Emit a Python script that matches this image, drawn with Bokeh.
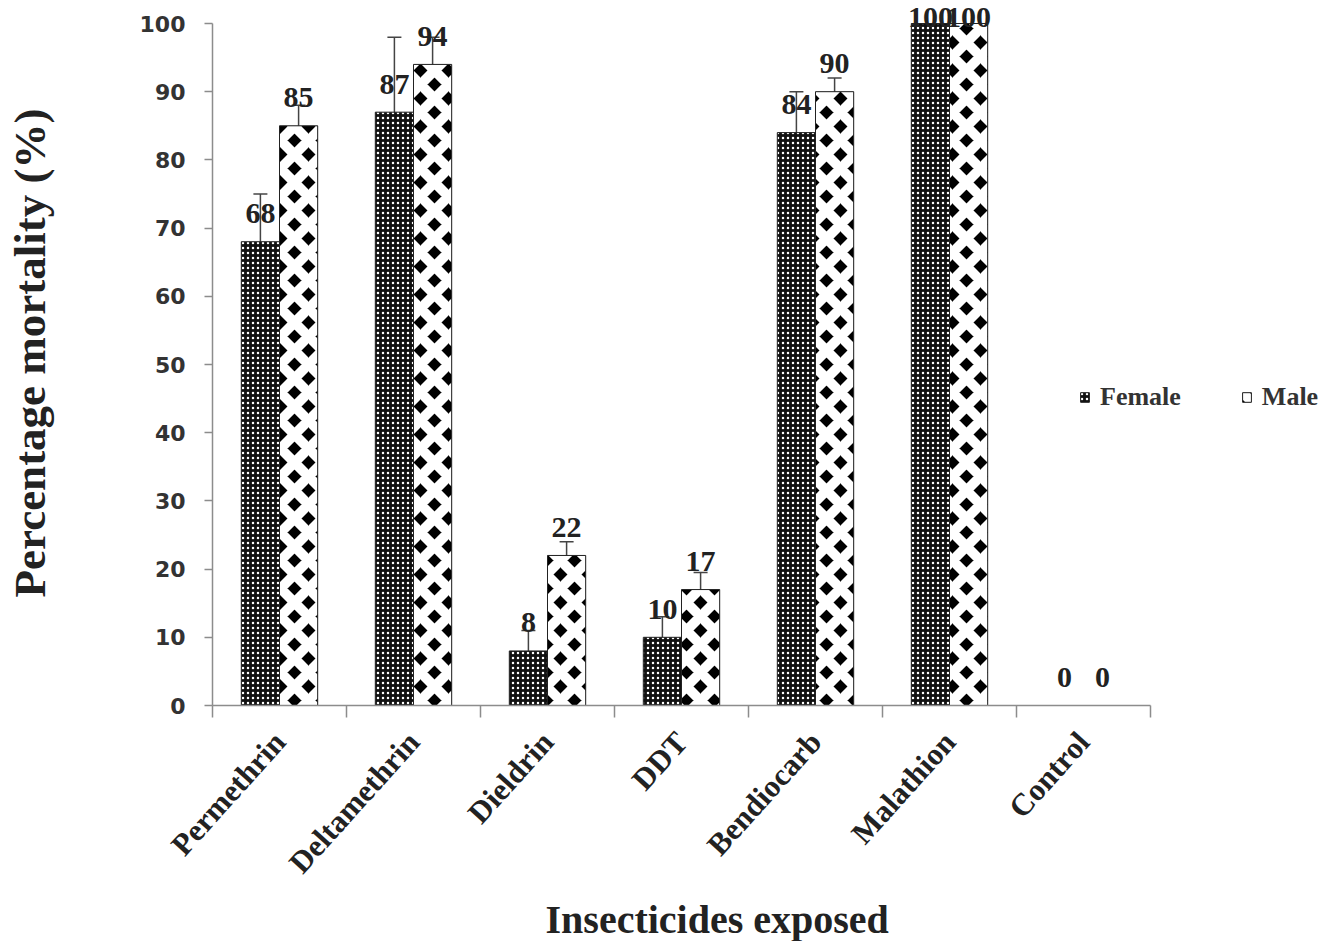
import math
from bokeh.plotting import figure
from bokeh.models import (ColumnDataSource, Range1d, FixedTicker, Whisker, TeeHead,
                          Legend, LegendItem, Title, LinearAxis)
from bokeh.embed import file_html
from bokeh.resources import INLINE
from bokeh.core.properties import value

categories = ["Permethrin", "Deltamethrin", "Dieldrin", "DDT", "Bendiocarb", "Malathion", "Control"]
female = [68, 87, 8, 10, 84, 100, 0]
male = [85, 94, 22, 17, 90, 100, 0]
female_err = [7, 11, 3, 3, 6, 0, 0]
male_err = [3, 4, 2, 2.5, 2, 0, 0]
y_ticks = list(range(0, 101, 10))

n = len(categories)
idx = list(range(n))
off = 0.1425
bw = 0.285
fx = [i + 0.5 - off for i in idx]
mx = [i + 0.5 + off for i in idx]

# label offsets (screen px): labels at 100 are squeezed against the top
f_off = [-6 if v >= 100 else -28 for v in female]
m_off = [-6 if v >= 100 else -28 for v in male]

src = ColumnDataSource(dict(fx=fx, mx=mx, female=female, male=male,
                            flab=[str(v) for v in female], mlab=[str(v) for v in male],
                            foff=f_off, moff=m_off))

fe = [(fx[i], female[i] - female_err[i], female[i] + female_err[i]) for i in idx if female_err[i] > 0]
me = [(mx[i], male[i] - male_err[i], male[i] + male_err[i]) for i in idx if male_err[i] > 0]
fsrc = ColumnDataSource(dict(x=[e[0] for e in fe], lo=[e[1] for e in fe], hi=[e[2] for e in fe]))
msrc = ColumnDataSource(dict(x=[e[0] for e in me], lo=[e[1] for e in me], hi=[e[2] for e in me]))

W, H = 1321, 941
left, right_px, top_px, bottom = 212, 1150, 23, 705
unit_x = (right_px - left) / n
x_end = n + (W - right_px) / unit_x
y_end = 100 * bottom / (bottom - top_px)

p = figure(width=W, height=H, x_range=Range1d(0, x_end), y_range=Range1d(0, y_end),
           output_backend="svg", toolbar_location=None,
           min_border_left=left, min_border_right=0, min_border_top=0,
           min_border_bottom=H - bottom)
p.outline_line_color = None
p.xgrid.visible = False
p.ygrid.visible = False

fr = p.vbar(x="fx", top="female", width=bw, source=src, fill_color="#111111",
            line_color="#222222", line_width=1,
            hatch_pattern="dot", hatch_color="white", hatch_scale=5)
mr = p.vbar(x="mx", top="male", width=bw, source=src, fill_color="black",
            line_color="#222222", line_width=1,
            hatch_pattern="x", hatch_color="white", hatch_scale=28, hatch_weight=10)

ecol = "#444444"
for s in (fsrc, msrc):
    p.add_layout(Whisker(source=s, base="x", upper="hi", lower="lo", line_color=ecol, line_width=1.5,
                         upper_head=TeeHead(size=14, line_color=ecol, line_width=1.5),
                         lower_head=TeeHead(size=14, line_color=ecol, line_width=1.5)))

lab_font = value("Liberation Serif")
for xcol, ycol, tcol, ocol in (("fx", "female", "flab", "foff"), ("mx", "male", "mlab", "moff")):
    p.text(x=xcol, y=ycol, text=tcol, source=src, y_offset=ocol, text_align="center",
           text_baseline="middle", text_font=lab_font, text_font_style="bold",
           text_font_size="30px", text_color="#222222")

axcol = "#8c8c8c"
xa = p.xaxis[0]
xa.bounds = (0, n)
xa.ticker = FixedTicker(ticks=[i + 0.5 for i in idx], minor_ticks=list(range(n + 1)))
xa.major_label_overrides = {i + 0.5: categories[i] for i in idx}
xa.major_label_orientation = math.radians(48)
xa.major_tick_line_color = None
xa.minor_tick_line_color = axcol
xa.minor_tick_in = 0
xa.minor_tick_out = 12
xa.minor_tick_line_width = 1.5
xa.axis_line_color = axcol
xa.axis_line_width = 1.5
xa.major_label_text_font = "Liberation Serif"
xa.major_label_text_font_style = "bold"
xa.major_label_text_font_size = "31px"
xa.major_label_text_color = "#222222"
xa.major_label_standoff = 19

ya = p.yaxis[0]
ya.bounds = (0, 100)
ya.ticker = FixedTicker(ticks=y_ticks)
ya.minor_tick_line_color = None
ya.major_tick_in = 0
ya.major_tick_out = 8
ya.major_tick_line_color = axcol
ya.major_tick_line_width = 1.5
ya.axis_line_color = axcol
ya.axis_line_width = 1.5
ya.major_label_text_font = "DejaVu Sans"
ya.major_label_text_font_style = "bold"
ya.major_label_text_font_size = "22px"
ya.major_label_text_color = "#333333"
ya.major_label_standoff = 19

# axis carrying only the y title (no line, ticks or labels)
yt_axis = LinearAxis(ticker=FixedTicker(ticks=[]), bounds=(7, 100),
                     axis_line_color=None, major_tick_line_color=None, minor_tick_line_color=None,
                     major_tick_in=0, major_tick_out=0, minor_tick_in=0, minor_tick_out=0,
                     major_label_standoff=0, major_label_text_font_size="0px",
                     axis_label="Percentage mortality (%)", axis_label_standoff=82,
                     axis_label_text_font="Liberation Serif", axis_label_text_font_style="bold",
                     axis_label_text_font_size="45px", axis_label_text_color="#222222")
p.add_layout(yt_axis, "left")

xt = Title(text="Insecticides exposed", align="left", offset=333, standoff=0,
           text_font="Liberation Serif", text_font_style="bold", text_font_size="40px",
           text_color="#222222")
p.add_layout(xt, "below")

legend = Legend(items=[LegendItem(label="Female", renderers=[fr]),
                       LegendItem(label="Male", renderers=[mr])],
                orientation="horizontal", location=(1079 - left, bottom - 397 - 15),
                glyph_width=11, glyph_height=12, label_standoff=10, spacing=60,
                padding=0, margin=0, border_line_color=None, background_fill_alpha=0,
                label_text_font="Liberation Serif", label_text_font_style="bold",
                label_text_font_size="26px", label_text_color="#333333")
p.add_layout(legend)

open("out.html", "w").write(file_html(p, INLINE))
